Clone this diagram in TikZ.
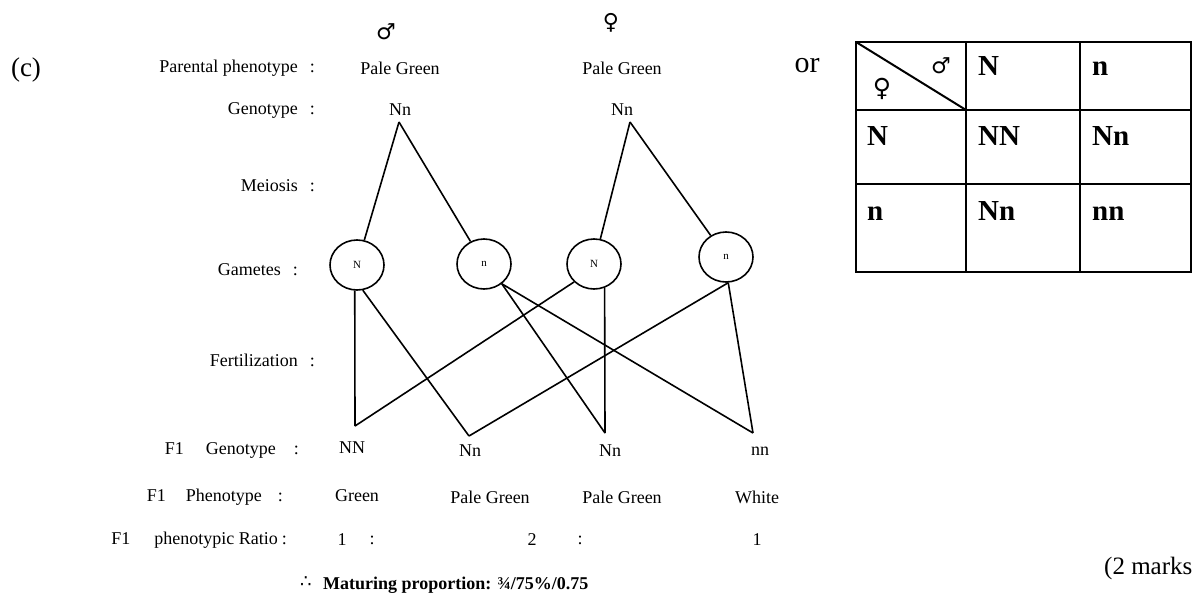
\documentclass[tikz,border=0pt]{standalone}
\usepackage{fontspec}
\setmainfont{Liberation Serif}
\newfontfamily\symf{DejaVu Sans}
\usetikzlibrary{shapes.geometric}
\tikzset{
  lab/.style={font=\fontsize{18}{20}\selectfont, inner sep=1pt},
  gam/.style={ellipse, draw, line width=1.6pt, minimum width=54pt, minimum height=50pt, inner sep=0pt, font=\fontsize{11}{12}\selectfont},
  link/.style={line width=1.6pt},
  tab/.style={line width=2.6pt},
  cell/.style={font=\bfseries\fontsize{29}{30}\selectfont, anchor=base west, inner sep=0pt},
  big/.style={font=\fontsize{27}{30}\selectfont, inner sep=0pt},
  sym/.style={font=\symf\fontsize{22}{24}\selectfont, inner sep=0pt},
}
\begin{document}
\begin{tikzpicture}[x=1pt,y=-1pt]
\useasboundingbox (0,0) rectangle (1194,599);
% headings
\node[big] (c) at (26,70) {(c)};
\node[big, font=\fontsize{30}{32}\selectfont] (or) at (807,66) {or};
\node[big, font=\fontsize{25}{28}\selectfont, anchor=west] (marks) at (1104,568) {(2 marks};
% left labels
\node[lab,anchor=east] (lpp) at (316,68) {Parental phenotype\hspace{12pt}:};
\node[lab,anchor=east] (lgt) at (316,110) {Genotype\hspace{12pt}:};
\node[lab,anchor=east] (lme) at (316,186) {Meiosis\hspace{12pt}:};
\node[lab,anchor=east] (lga) at (299,270) {Gametes\hspace{12pt}:};
\node[lab,anchor=east] (lfe) at (316,360) {Fertilization\hspace{12pt}:};
\node[lab,anchor=east] (lf1g) at (300,450) {F1\hspace{22pt}Genotype\hspace{18pt}:};
\node[lab,anchor=east] (lf1p) at (284,497) {F1\hspace{20pt}Phenotype\hspace{16pt}:};
\node[lab,anchor=east] (lf1r) at (288,540) {F1\hspace{24pt}phenotypic Ratio\hspace{4pt}:};
% parents
\node[sym] (male) at (386,32) {♂};
\node[sym] (female) at (611,23) {♀};
\node[lab] (pp1) at (400,68) {Pale Green};
\node[lab] (pp2) at (622,68) {Pale Green};
\node[lab] (p1) at (400,110) {Nn};
\node[lab] (p2) at (622,110) {Nn};
\coordinate (a1) at (399,122);
\coordinate (a2) at (630,122);
% gametes
\node[gam] (g1) at (357,265) {N};
\node[gam] (g2) at (484,264) {n};
\node[gam] (g3) at (594,264) {N};
\node[gam] (g4) at (726,257) {n};
\draw[link] (a1) -- (g1);
\draw[link] (a1) -- (g2);
\draw[link] (a2) -- (g3);
\draw[link] (a2) -- (g4);
% fertilization
\coordinate (mNN) at (355,426);
\coordinate (mNn1) at (469,436);
\coordinate (mNn2) at (605,433);
\coordinate (mnn) at (753,433);
\draw[link] (g1.-95) -- (mNN);
\draw[link] (g1.-77) -- (mNn1);
\draw[link] (g3.-138) -- (mNN);
\draw[link] (g3.-66) -- (mNn2);
\draw[link] (g2.-48) -- (mNn2);
\draw[link] (g2.-48) -- (mnn);
\draw[link] (g4.-85) -- (mNn1);
\draw[link] (g4.-85) -- (mnn);
% F1
\node[lab] (NN) at (352,448) {NN};
\node[lab] (Nn1) at (470,451) {Nn};
\node[lab] (Nn2) at (610,451) {Nn};
\node[lab] (nn) at (760,451) {nn};
\node[lab] (ph1) at (357,496) {Green};
\node[lab] (ph2) at (490,497) {Pale Green};
\node[lab] (ph3) at (622,497) {Pale Green};
\node[lab] (ph4) at (757,497) {White};
\node[lab] (r1) at (342,540) {1};
\node[lab] (c1) at (372,540) {:};
\node[lab] (r2) at (532,540) {2};
\node[lab] (c2) at (580,540) {:};
\node[lab] (r3) at (757,540) {1};
\node[anchor=west, inner sep=0pt, font=\symf\fontsize{18}{20}\selectfont] (ther) at (300,582) {∴};
\node[lab, anchor=west, inner sep=0pt, font=\bfseries\fontsize{18}{20}\selectfont] (mat) at (323,585) {Maturing proportion: ¾/75\%/0.75};
% Punnett square
\draw[tab] (856,42) rectangle (1191,272);
\draw[tab] (966,42) -- (966,272);
\draw[tab] (1080,42) -- (1080,272);
\draw[tab] (856,110) -- (1191,110);
\draw[tab] (856,184) -- (1191,184);
\draw[line width=2pt] (856,42) -- (966,110);
\node[sym] (tm) at (941,66) {♂};
\node[sym, font=\symf\fontsize{25}{27}\selectfont] (tf) at (882,89) {♀};
\node[cell] (h1) at (978,76) {N};
\node[cell] (h2) at (1092,76) {n};
\node[cell] (v1) at (867,146) {N};
\node[cell] (x11) at (978,146) {NN};
\node[cell] (x12) at (1092,146) {Nn};
\node[cell] (v2) at (867,220) {n};
\node[cell] (x21) at (978,220) {Nn};
\node[cell] (x22) at (1092,220) {nn};
\end{tikzpicture}
\end{document}
